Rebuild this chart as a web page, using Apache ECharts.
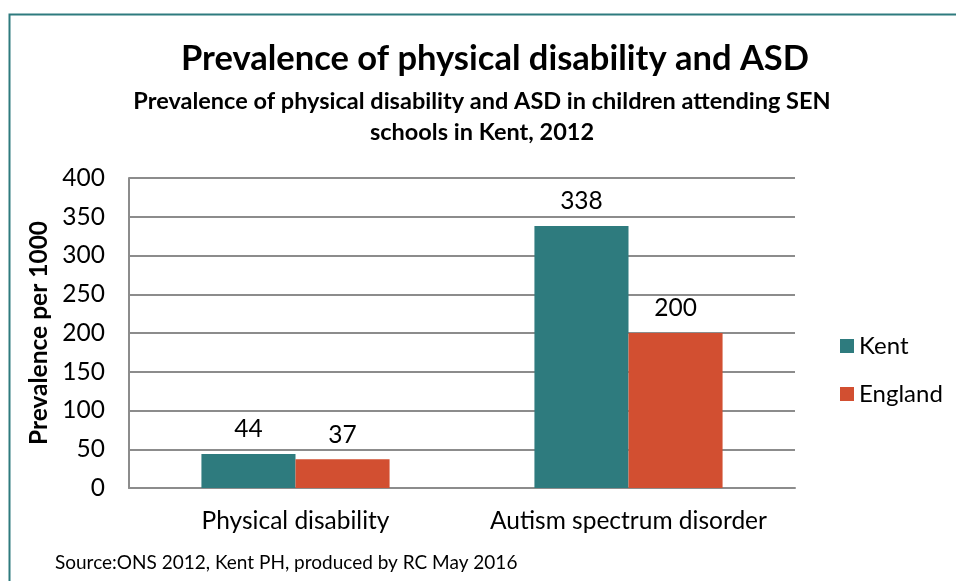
<!DOCTYPE html>
<html>
<head>
<meta charset="utf-8">
<script src="https://cdn.jsdelivr.net/npm/echarts@6/dist/echarts.min.js"></script>
<style>
  html, body { margin: 0; padding: 0; background: #fff; }
  #chart { width: 956px; height: 581px; }
</style>
</head>
<body>
<div id="chart"></div>
<script>
// Prevalence per 1000 children in SEN schools, 2012
const categories = ['Physical disability', 'Autism spectrum disorder'];
const kentValues = [44, 338];
const englandValues = [37, 200];
const seriesNames = ['Kent', 'England'];

const FONT = 'Lato';
const KENT_COLOR = '#2E7B7E';
const ENGLAND_COLOR = '#D24F31';

const chart = echarts.init(document.getElementById('chart'), null, { renderer: 'canvas' });

chart.setOption({
  backgroundColor: '#ffffff',
  animation: false,
  graphic: [
    {
      type: 'rect',
      shape: { x: 9.5, y: 14.5, width: 1000, height: 1000 },
      style: { fill: 'none', stroke: '#2E7B7E', lineWidth: 2 },
      silent: true
    },
    {
      type: 'text',
      left: 55, top: 553,
      style: { text: 'Source:ONS 2012, Kent PH, produced by RC May 2016', fontFamily: FONT, fontSize: 19, fill: '#000' }
    }
  ],
  title: [
    {
      text: 'Prevalence of physical disability and ASD',
      left: 490, top: 36, textAlign: 'center',
      textStyle: { fontFamily: FONT, fontSize: 34.5, fontWeight: 'bold', color: '#000' }
    },
    {
      text: 'Prevalence of physical disability and ASD in children attending SEN\nschools in Kent, 2012',
      left: 477, top: 81, textAlign: 'center',
      textStyle: { fontFamily: FONT, fontSize: 23.5, fontWeight: 'bold', color: '#000', lineHeight: 31, align: 'center' }
    }
  ],
  legend: {
    orient: 'vertical',
    left: 835, top: 329,
    itemWidth: 14, itemHeight: 14, itemGap: 24,
    icon: 'rect',
    textStyle: { fontFamily: FONT, fontSize: 24, lineHeight: 24, color: '#000' },
    data: seriesNames
  },
  grid: { left: 129, right: 161, top: 178, bottom: 93, containLabel: false },
  xAxis: {
    type: 'category',
    data: categories,
    axisLine: { lineStyle: { color: '#8c8c8c', width: 2 } },
    axisTick: { show: false },
    axisLabel: { interval: 0, fontFamily: FONT, fontSize: 24.5, color: '#000', margin: 21 }
  },
  yAxis: {
    type: 'value',
    min: 0, max: 400, interval: 50,
    name: 'Prevalence per 1000',
    nameLocation: 'middle',
    nameGap: 71,
    nameTextStyle: { fontFamily: FONT, fontSize: 24.5, fontWeight: 'bold', color: '#000' },
    axisLine: { show: true, lineStyle: { color: '#8c8c8c', width: 2 } },
    axisTick: { show: false },
    axisLabel: { fontFamily: FONT, fontSize: 24.5, color: '#000', margin: 24 },
    splitLine: { lineStyle: { color: '#8c8c8c', width: 2 } }
  },
  series: [
    {
      name: seriesNames[0], type: 'bar', data: kentValues,
      barGap: '0%', barCategoryGap: '43.5%',
      itemStyle: { color: KENT_COLOR },
      label: { show: true, position: 'top', distance: 12, fontFamily: FONT, fontSize: 24.5, color: '#000' }
    },
    {
      name: seriesNames[1], type: 'bar', data: englandValues,
      itemStyle: { color: ENGLAND_COLOR },
      label: { show: true, position: 'top', distance: 12, fontFamily: FONT, fontSize: 24.5, color: '#000' }
    }
  ]
});
</script>
</body>
</html>
